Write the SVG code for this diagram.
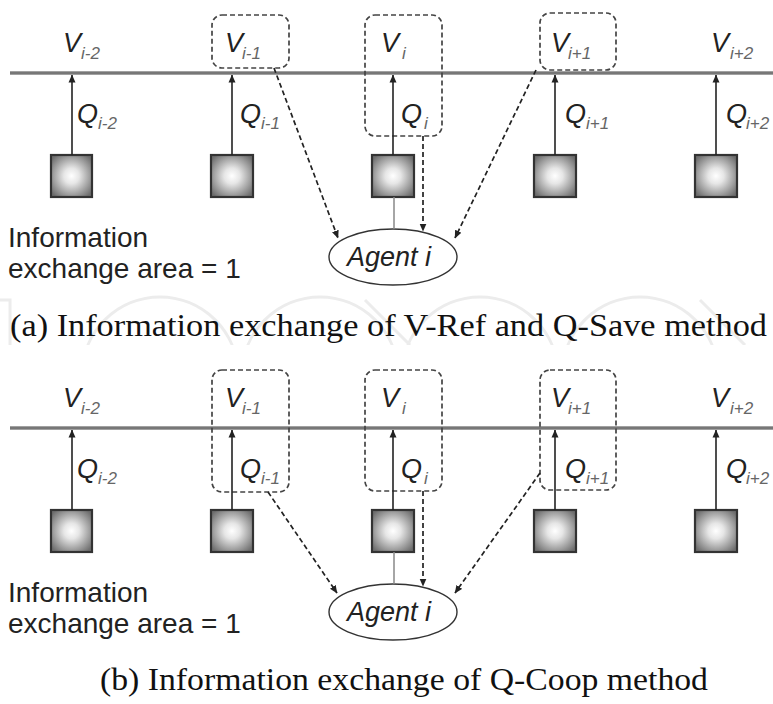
<svg xmlns="http://www.w3.org/2000/svg" width="773" height="704" viewBox="0 0 773 704">
<style>
.lab{font-family:"Liberation Sans",Arial,sans-serif;font-style:italic;font-size:27px;fill:#222}
.sub{font-size:17px;fill:#666}
.txt{font-family:"Liberation Sans",Arial,sans-serif;font-size:28px;fill:#222}
.cap{font-family:"Liberation Serif","Times New Roman",serif;font-size:31px;fill:#111}
.bus{stroke:#444;stroke-width:3}
.busc{stroke:#aaa;stroke-width:1}
.up{stroke:#222;stroke-width:1.6;fill:none}
.dbox{fill:none;stroke:#444;stroke-width:1.7;stroke-dasharray:5 3}
.darr{fill:none;stroke:#222;stroke-width:1.7;stroke-dasharray:5 3}
.box{fill:url(#g);stroke:#333;stroke-width:2.2}
.stem{stroke:#888;stroke-width:1.5}
.ell{fill:#fff;stroke:#333;stroke-width:1.4}
.wm{fill:none;stroke:#ececec;stroke-width:3}
</style>
<defs>
<radialGradient id="g" cx="0.5" cy="0.5" r="0.62">
<stop offset="0" stop-color="#ffffff"/>
<stop offset="0.3" stop-color="#e6e6e6"/>
<stop offset="1" stop-color="#6e6e6e"/>
</radialGradient>
<marker id="ah" markerWidth="8" markerHeight="8" viewBox="0 0 8 8" refX="7.5" refY="4" orient="auto" markerUnits="userSpaceOnUse">
<path d="M0,0.5 L8,4 L0,7.5 Z" fill="#222"/>
</marker>
<clipPath id="wmclip"><rect x="0" y="283" width="773" height="62"/></clipPath>
</defs>
<rect width="773" height="704" fill="#fff"/>

<g id="watermark" clip-path="url(#wmclip)">
<rect class="wm" x="-20" y="300" width="30" height="80"/>
<circle class="wm" cx="160" cy="375" r="78"/>
<circle class="wm" cx="320" cy="375" r="78"/>
<path class="wm" d="M365,300 L410,345"/>
<circle class="wm" cx="480" cy="375" r="78"/>
<circle class="wm" cx="640" cy="375" r="78"/>
<path class="wm" d="M700,300 L745,345"/>
</g>

<!-- ===== Panel (a) ===== -->
<g id="a-bus">
<line class="bus" x1="10" y1="73" x2="773" y2="73"/>
<line class="busc" x1="10" y1="73" x2="773" y2="73"/>
</g>
<g id="a-dboxes">
<rect class="dbox" x="212" y="15" width="77" height="53" rx="10"/>
<rect class="dbox" x="365" y="15" width="77" height="121" rx="10"/>
<rect class="dbox" x="540" y="13" width="76" height="57" rx="10"/>
</g>
<g id="a-nodes">
<g id="a-n1"><rect class="box" x="51" y="155" width="41" height="42"/>
<text class="lab" x="63" y="52">V<tspan class="sub" x="81" y="59">i-2</tspan></text>
<text class="lab" x="77" y="123">Q<tspan class="sub" x="98" y="129">i-2</tspan></text></g>
<g id="a-n2"><rect class="box" x="211" y="155" width="42" height="42"/>
<text class="lab" x="225" y="52">V<tspan class="sub" x="242" y="59">i-1</tspan></text>
<text class="lab" x="240" y="123">Q<tspan class="sub" x="261" y="129">i-1</tspan></text></g>
<g id="a-n3"><rect class="box" x="372" y="155" width="42" height="42"/>
<text class="lab" x="381" y="52">V<tspan class="sub" x="402" y="59">i</tspan></text>
<text class="lab" x="401" y="123">Q<tspan class="sub" x="424" y="129">i</tspan></text></g>
<g id="a-n4"><rect class="box" x="534" y="155" width="42" height="42"/>
<text class="lab" x="551" y="52">V<tspan class="sub" x="568" y="59">i+1</tspan></text>
<text class="lab" x="565" y="123">Q<tspan class="sub" x="586" y="129">i+1</tspan></text></g>
<g id="a-n5"><rect class="box" x="695" y="155" width="42" height="42"/>
<text class="lab" x="711" y="52">V<tspan class="sub" x="730" y="59">i+2</tspan></text>
<text class="lab" x="726" y="123">Q<tspan class="sub" x="746" y="129">i+2</tspan></text></g>
<g id="a-agent"><ellipse class="ell" cx="393" cy="257" rx="64" ry="28"/>
<text class="lab" x="389" y="266" text-anchor="middle">Agent i</text></g>
<g id="a-info"><text class="txt" x="8" y="247">Information</text>
<text class="txt" x="8" y="278">exchange area = 1</text></g>
</g>
<g id="a-connectors">
<line class="up" x1="72" y1="155" x2="72" y2="75" marker-end="url(#ah)"/>
<line class="up" x1="232" y1="155" x2="232" y2="75" marker-end="url(#ah)"/>
<line class="up" x1="393" y1="155" x2="393" y2="75" marker-end="url(#ah)"/>
<line class="up" x1="555" y1="155" x2="555" y2="75" marker-end="url(#ah)"/>
<line class="up" x1="716" y1="155" x2="716" y2="75" marker-end="url(#ah)"/>
<line class="stem" x1="394" y1="197" x2="394" y2="229"/>
<line class="darr" x1="274" y1="68" x2="338" y2="238" marker-end="url(#ah)"/>
<line class="darr" x1="423" y1="136" x2="423" y2="231" marker-end="url(#ah)"/>
<line class="darr" x1="536" y1="70" x2="455" y2="238" marker-end="url(#ah)"/>
</g>
<text class="cap" x="10" y="336" textLength="757" lengthAdjust="spacingAndGlyphs">(a) Information exchange of V-Ref and Q-Save method</text>

<!-- ===== Panel (b) ===== -->
<g id="b-bus">
<line class="bus" x1="10" y1="428" x2="773" y2="428"/>
<line class="busc" x1="10" y1="428" x2="773" y2="428"/>
</g>
<g id="b-dboxes">
<rect class="dbox" x="212" y="370" width="77" height="122" rx="10"/>
<rect class="dbox" x="365" y="370" width="77" height="121" rx="10"/>
<rect class="dbox" x="540" y="370" width="76" height="120" rx="10"/>
</g>
<g id="b-nodes">
<g id="b-n1"><rect class="box" x="51" y="510" width="41" height="42"/>
<text class="lab" x="63" y="407">V<tspan class="sub" x="81" y="414">i-2</tspan></text>
<text class="lab" x="77" y="478">Q<tspan class="sub" x="98" y="484">i-2</tspan></text></g>
<g id="b-n2"><rect class="box" x="211" y="510" width="42" height="42"/>
<text class="lab" x="225" y="407">V<tspan class="sub" x="242" y="414">i-1</tspan></text>
<text class="lab" x="240" y="478">Q<tspan class="sub" x="261" y="484">i-1</tspan></text></g>
<g id="b-n3"><rect class="box" x="372" y="510" width="42" height="42"/>
<text class="lab" x="381" y="407">V<tspan class="sub" x="402" y="414">i</tspan></text>
<text class="lab" x="401" y="478">Q<tspan class="sub" x="424" y="484">i</tspan></text></g>
<g id="b-n4"><rect class="box" x="534" y="510" width="42" height="42"/>
<text class="lab" x="551" y="407">V<tspan class="sub" x="568" y="414">i+1</tspan></text>
<text class="lab" x="565" y="478">Q<tspan class="sub" x="586" y="484">i+1</tspan></text></g>
<g id="b-n5"><rect class="box" x="695" y="510" width="42" height="42"/>
<text class="lab" x="711" y="407">V<tspan class="sub" x="730" y="414">i+2</tspan></text>
<text class="lab" x="726" y="478">Q<tspan class="sub" x="746" y="484">i+2</tspan></text></g>
<g id="b-agent"><ellipse class="ell" cx="393" cy="612" rx="64" ry="28"/>
<text class="lab" x="389" y="621" text-anchor="middle">Agent i</text></g>
<g id="b-info"><text class="txt" x="8" y="602">Information</text>
<text class="txt" x="8" y="633">exchange area = 1</text></g>
</g>
<g id="b-connectors">
<line class="up" x1="72" y1="510" x2="72" y2="430" marker-end="url(#ah)"/>
<line class="up" x1="232" y1="510" x2="232" y2="430" marker-end="url(#ah)"/>
<line class="up" x1="393" y1="510" x2="393" y2="430" marker-end="url(#ah)"/>
<line class="up" x1="555" y1="510" x2="555" y2="430" marker-end="url(#ah)"/>
<line class="up" x1="716" y1="510" x2="716" y2="430" marker-end="url(#ah)"/>
<line class="stem" x1="394" y1="552" x2="394" y2="584"/>
<line class="darr" x1="268" y1="492" x2="337" y2="593" marker-end="url(#ah)"/>
<line class="darr" x1="423" y1="491" x2="423" y2="586" marker-end="url(#ah)"/>
<line class="darr" x1="540" y1="473" x2="455" y2="593" marker-end="url(#ah)"/>
</g>
<text class="cap" x="404" y="690" text-anchor="middle" textLength="608" lengthAdjust="spacingAndGlyphs">(b) Information exchange of Q-Coop method</text>
</svg>
